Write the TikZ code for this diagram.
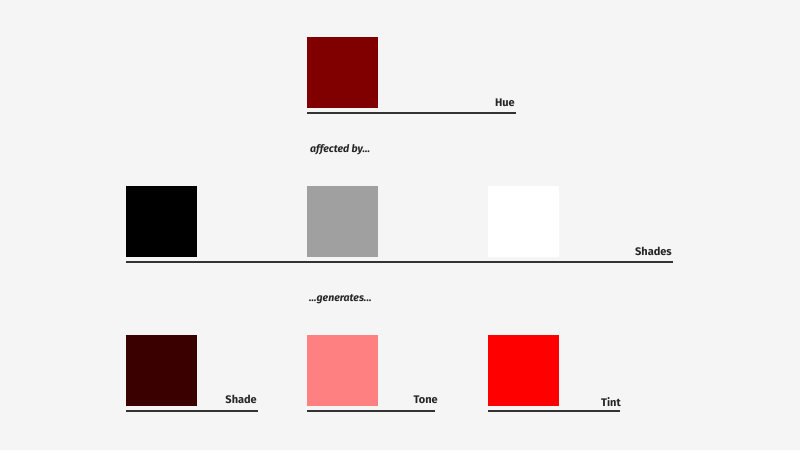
\documentclass[tikz,border=0pt]{standalone}
\usepackage{fontspec}
\setmainfont{Fira Sans}
\begin{document}
\begin{tikzpicture}[x=1pt,y=-1pt,
  sw/.style={minimum width=71pt,minimum height=71pt,inner sep=0pt,outer sep=0pt,anchor=north west,draw=none},
  lab/.style={font=\fontsize{11}{13}\selectfont\bfseries,text=black!85,anchor=base east,inner sep=0pt},
  captxt/.style={font=\fontsize{10.5}{12}\selectfont\bfseries\itshape,text=black!85,anchor=base west,inner sep=0pt},
  rule/.style={line width=1.1pt,draw=black!80}]
\fill[fill={rgb,255:red,245;green,245;blue,245}] (0,0) rectangle (800,450);
\useasboundingbox (0,0) rectangle (800,450);
% Hue
\node[sw,fill={rgb,255:red,128;green,0;blue,0}] (hue) at (307,37) {};
\coordinate (hueL) at (307,113);
\coordinate (hueR) at (516,113);
\draw[rule] (hueL) -- (hueR);
\node[lab] (huet) at (515,106) {Hue};
\node[captxt] (aff) at (310,152) {affected by...};
% Shades
\node[sw,fill=black] (blk) at (126,186) {};
\node[sw,fill={rgb,255:red,160;green,160;blue,160}] (gry) at (307,186) {};
\node[sw,fill=white] (wht) at (488,186) {};
\coordinate (shL) at (126,262);
\coordinate (shR) at (673,262);
\draw[rule] (shL) -- (shR);
\node[lab] (sht) at (672,255) {Shades};
\node[captxt] (gen) at (309,301) {...generates...};
% Results
\node[sw,fill={rgb,255:red,58;green,0;blue,0}] (shade) at (126,335) {};
\node[sw,fill={rgb,255:red,255;green,128;blue,128}] (tone) at (307,335) {};
\node[sw,fill={rgb,255:red,255;green,0;blue,0}] (tint) at (488,335) {};
\coordinate (s1) at (126,411); \coordinate (s2) at (258,411);
\coordinate (t1) at (307,411); \coordinate (t2) at (435,411);
\coordinate (u1) at (488,411); \coordinate (u2) at (620,411);
\draw[rule] (s1) -- (s2);
\draw[rule] (t1) -- (t2);
\draw[rule] (u1) -- (u2);
\node[lab] (shadet) at (257,403) {Shade};
\node[lab] (tonet) at (438,403) {Tone};
\node[lab] (tintt) at (621,406) {Tint};
\end{tikzpicture}
\end{document}
